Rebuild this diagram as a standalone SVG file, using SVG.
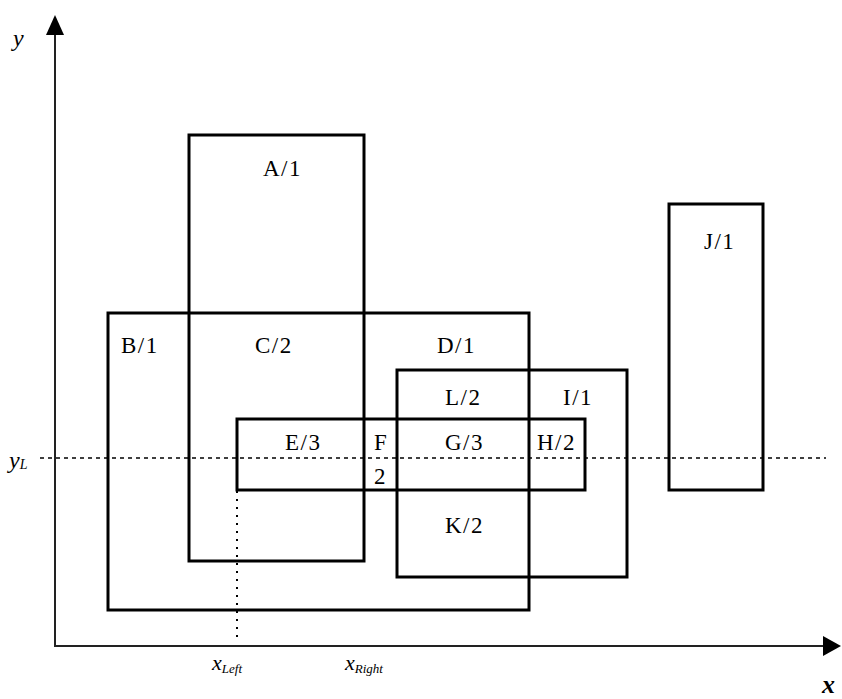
<svg xmlns="http://www.w3.org/2000/svg" width="842" height="699" viewBox="0 0 842 699">
<defs>
<style>
.r{fill:none;stroke:#000;stroke-width:3}
.lbl{font-family:"Liberation Serif","Times New Roman",serif;font-size:23px;fill:#000;letter-spacing:1.5px}
.it{font-family:"Liberation Serif","Times New Roman",serif;font-style:italic;fill:#000}
.ax{stroke:#222;stroke-width:2;fill:none}
</style>
</defs>
<rect width="842" height="699" fill="#fff"/>
<g id="connectors">
<line class="ax" x1="55" y1="646" x2="55" y2="34"/>
<polygon points="55,15 46,35 64,35" fill="#000"/>
<line class="ax" x1="54" y1="646" x2="824" y2="646"/>
<polygon points="841,646 823,636 823,656" fill="#000"/>
<line x1="40" y1="458" x2="826" y2="458" stroke="#000" stroke-width="1.5" stroke-dasharray="4 4"/>
<line x1="237" y1="491" x2="237" y2="640" stroke="#000" stroke-width="2" stroke-dasharray="2 6"/>
</g>
<g id="A"><rect class="r" x="189" y="135" width="175" height="426"/><text class="lbl" x="263" y="176">A/1</text></g>
<g id="B"><rect class="r" x="108" y="313" width="421" height="297"/><text class="lbl" x="121" y="353">B/1</text></g>
<g id="C"><text class="lbl" x="255" y="353">C/2</text></g>
<g id="D"><text class="lbl" x="437" y="353">D/1</text></g>
<g id="I"><rect class="r" x="397" y="370" width="230" height="207"/><text class="lbl" x="563" y="405">I/1</text></g>
<g id="L"><text class="lbl" x="445" y="405">L/2</text></g>
<g id="E"><rect class="r" x="237" y="419" width="348" height="71"/><text class="lbl" x="285" y="450">E/3</text></g>
<g id="F"><text class="lbl" x="374" y="450">F</text><text class="lbl" x="374" y="484">2</text></g>
<g id="G"><text class="lbl" x="445" y="450">G/3</text></g>
<g id="H"><text class="lbl" x="537" y="450">H/2</text></g>
<g id="K"><text class="lbl" x="445" y="533">K/2</text></g>
<g id="J"><rect class="r" x="669" y="204" width="94" height="286"/><text class="lbl" x="704" y="249">J/1</text></g>
<g id="axis-labels">
<text class="it" x="13" y="46" font-size="24">y</text>
<text class="it" x="9" y="468" font-size="24">y<tspan font-size="14" dy="1">L</tspan></text>
<text class="it" x="212" y="670" font-size="22">x<tspan font-size="13" dy="3">Left</tspan></text>
<text class="it" x="345" y="670" font-size="22">x<tspan font-size="13" dy="3">Right</tspan></text>
<text class="it" x="822" y="693" font-size="26" font-weight="bold">x</text>
</g>
</svg>
